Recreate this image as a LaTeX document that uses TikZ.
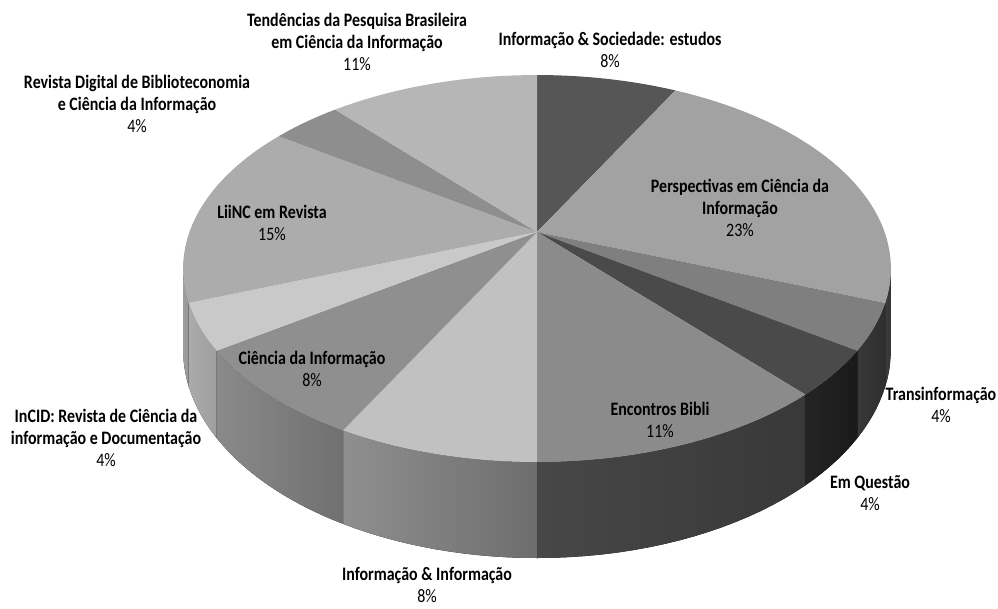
\documentclass[tikz,border=0pt]{standalone}
\usepackage{fontspec}
\setmainfont[FakeStretch=0.84]{Carlito}
\usepackage{xcolor}
\usepackage{tikz}

\definecolor{sociedade}{HTML}{565656}
\definecolor{perspectivas}{HTML}{A2A2A2}
\definecolor{transinf}{HTML}{7F7F7F}
\definecolor{emquestao}{HTML}{4A4A4A}
\definecolor{encontros}{HTML}{8B8B8B}
\definecolor{infoinfo}{HTML}{C1C1C1}
\definecolor{ciencia}{HTML}{8F8F8F}
\definecolor{incid}{HTML}{C9C9C9}
\definecolor{liinc}{HTML}{ACACAC}
\definecolor{rdbci}{HTML}{8E8E8E}
\definecolor{tendencias}{HTML}{B6B6B6}

\begin{document}
\begin{tikzpicture}[x=1pt,y=-1pt,
    declare function={pw(\a)=1+0.1887*cos(\a);
      px(\a)=537+347.6*sin(\a)/pw(\a);
      py(\a)=232-186.6*cos(\a)/pw(\a);
      pb(\a)=py(\a)+77.9/pw(\a);},
    lbl/.style={align=center,font=\fontsize{19}{22}\selectfont}]
    \useasboundingbox (0,0) rectangle (998,608);

    \fill[left color=black!76,right color=black!80] plot[domain=100.9:110.77,samples=6] ({px(\x)},{py(\x)}) -- plot[domain=110.77:100.9,samples=6] ({px(\x)},{pb(\x)}) -- cycle;
    \fill[left color=black!78,right color=black!82] plot[domain=110.77:124.62,samples=8] ({px(\x)},{py(\x)}) -- plot[domain=124.62:110.77,samples=8] ({px(\x)},{pb(\x)}) -- cycle;
    \fill[left color=black!86,right color=black!90] plot[domain=124.62:138.46,samples=8] ({px(\x)},{py(\x)}) -- plot[domain=138.46:124.62,samples=8] ({px(\x)},{pb(\x)}) -- cycle;
    \fill[left color=black!72,right color=black!78] plot[domain=138.46:180,samples=20] ({px(\x)},{py(\x)}) -- plot[domain=180:138.46,samples=20] ({px(\x)},{pb(\x)}) -- cycle;
    \fill[left color=black!44,right color=black!57] plot[domain=180:207.69,samples=15] ({px(\x)},{py(\x)}) -- plot[domain=207.69:180,samples=15] ({px(\x)},{pb(\x)}) -- cycle;
    \fill[left color=black!46,right color=black!56] plot[domain=207.69:235.38,samples=15] ({px(\x)},{py(\x)}) -- plot[domain=235.38:207.69,samples=15] ({px(\x)},{pb(\x)}) -- cycle;
    \fill[left color=black!33,right color=black!38] plot[domain=235.38:249.23,samples=8] ({px(\x)},{py(\x)}) -- plot[domain=249.23:235.38,samples=8] ({px(\x)},{pb(\x)}) -- cycle;
    \fill[left color=black!38,right color=black!40] plot[domain=249.23:259.1,samples=6] ({px(\x)},{py(\x)}) -- plot[domain=259.1:249.23,samples=6] ({px(\x)},{pb(\x)}) -- cycle;

    \fill[sociedade] (537,232) -- plot[domain=0:27.69,samples=15] ({px(\x)},{py(\x)}) -- cycle;
    \fill[perspectivas] (537,232) -- plot[domain=27.69:110.77,samples=40] ({px(\x)},{py(\x)}) -- cycle;
    \fill[transinf] (537,232) -- plot[domain=110.77:124.62,samples=8] ({px(\x)},{py(\x)}) -- cycle;
    \fill[emquestao] (537,232) -- plot[domain=124.62:138.46,samples=8] ({px(\x)},{py(\x)}) -- cycle;
    \fill[encontros] (537,232) -- plot[domain=138.46:180,samples=20] ({px(\x)},{py(\x)}) -- cycle;
    \fill[infoinfo] (537,232) -- plot[domain=180:207.69,samples=15] ({px(\x)},{py(\x)}) -- cycle;
    \fill[ciencia] (537,232) -- plot[domain=207.69:235.38,samples=15] ({px(\x)},{py(\x)}) -- cycle;
    \fill[incid] (537,232) -- plot[domain=235.38:249.23,samples=8] ({px(\x)},{py(\x)}) -- cycle;
    \fill[liinc] (537,232) -- plot[domain=249.23:304.62,samples=25] ({px(\x)},{py(\x)}) -- cycle;
    \fill[rdbci] (537,232) -- plot[domain=304.62:318.46,samples=8] ({px(\x)},{py(\x)}) -- cycle;
    \fill[tendencias] (537,232) -- plot[domain=318.46:360,samples=20] ({px(\x)},{py(\x)}) -- cycle;

    \node[lbl] (tendencias) at (357,42) {\textbf{Tendências da Pesquisa Brasileira}\\\textbf{em Ciência da Informação}\\11\%};
    \node[lbl] (sociedade) at (610,50) {\textbf{Informação \& Sociedade: estudos}\\8\%};
    \node[lbl] (rdbci) at (137,104) {\textbf{Revista Digital de Biblioteconomia}\\\textbf{e Ciência da Informação}\\4\%};
    \node[lbl] (perspectivas) at (740,208) {\textbf{Perspectivas em Ciência da}\\\textbf{Informação}\\23\%};
    \node[lbl] (liinc) at (272,223) {\textbf{LiiNC em Revista}\\15\%};
    \node[lbl] (ciencia) at (312,369) {\textbf{Ciência da Informação}\\8\%};
    \node[lbl] (incid) at (106,438) {\textbf{InCID: Revista de Ciência da}\\\textbf{informação e Documentação}\\4\%};
    \node[lbl] (encontros) at (660,420) {\textbf{Encontros Bibli}\\11\%};
    \node[lbl] (transinf) at (941,405) {\textbf{Transinformação}\\4\%};
    \node[lbl] (emquestao) at (870,493) {\textbf{Em Questão}\\4\%};
    \node[lbl] (infoinfo) at (427,585) {\textbf{Informação \& Informação}\\8\%};
\end{tikzpicture}
\end{document}
